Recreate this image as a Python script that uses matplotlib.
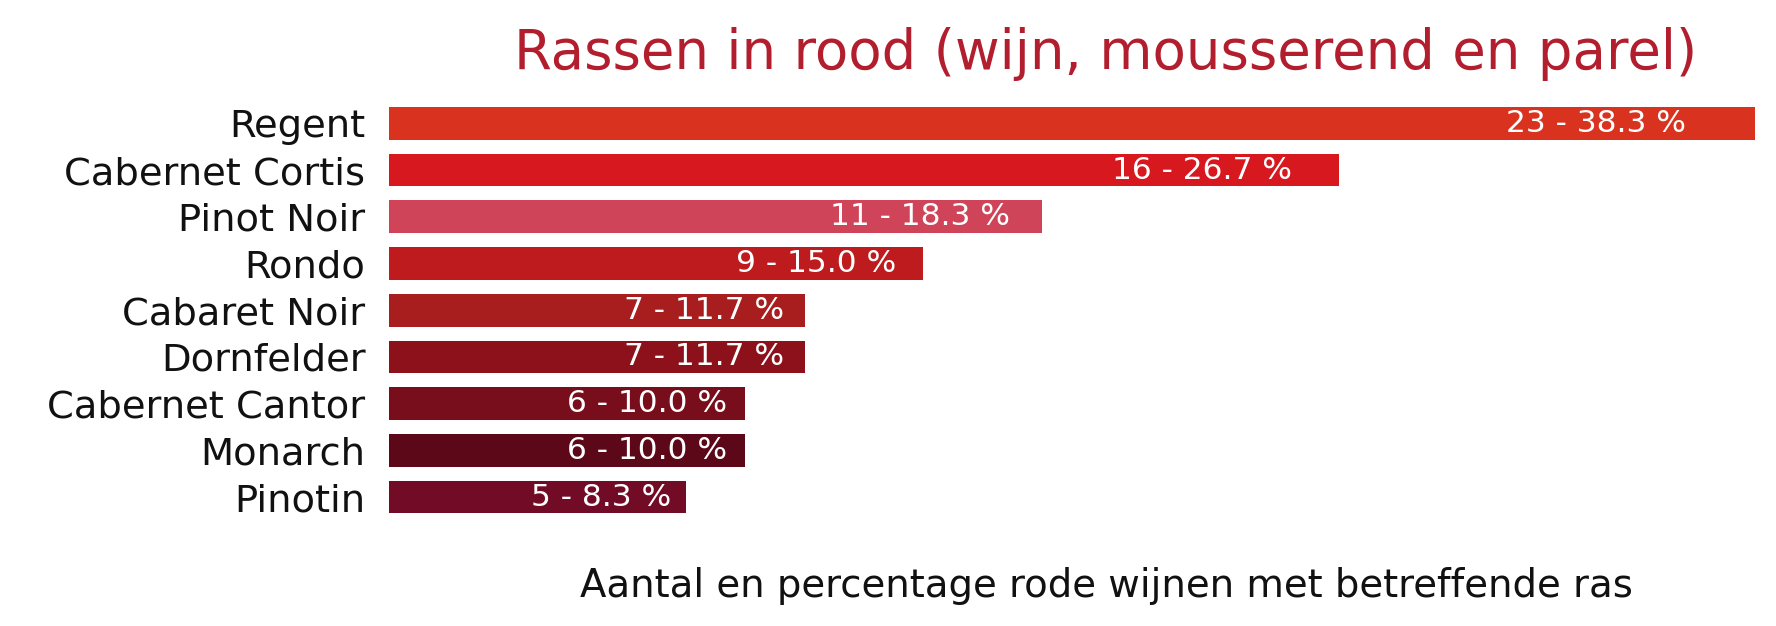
import matplotlib
matplotlib.use("Agg")
import matplotlib.pyplot as plt

# rassen, aantallen en percentages
rassen = ["Regent", "Cabernet Cortis", "Pinot Noir", "Rondo", "Cabaret Noir",
          "Dornfelder", "Cabernet Cantor", "Monarch", "Pinotin"]
aantal = [23, 16, 11, 9, 7, 7, 6, 6, 5]
percentage = [38.3, 26.7, 18.3, 15.0, 11.7, 11.7, 10.0, 10.0, 8.3]
kleuren = ["#D9321F", "#D7181F", "#CF4459", "#BE1B1E", "#A81D1E",
           "#8D111B", "#780E1B", "#5D0818", "#720B26"]

titel = "Rassen in rood (wijn, mousserend en parel)"
x_label = "Aantal en percentage rode wijnen met betreffende ras"

plt.rcParams['font.family'] = ['DejaVu Sans']

fig = plt.figure(figsize=(17.76, 6.26), dpi=100)
ax = fig.add_axes([389 / 1776, 0.1474, 1434 / 1776, 0.714])

posities = list(range(len(rassen)))
ax.barh(posities, aantal, height=0.7, color=kleuren)

for i in posities:
    ax.text(aantal[i] * 0.95, i, f"{aantal[i]} - {percentage[i]:.1f} %",
            ha='right', va='center', color='white', fontsize=22.5)

ax.set_yticks(posities)
ax.set_yticklabels(rassen, fontsize=27.7, color='#111111')
ax.invert_yaxis()
ax.set_xlim(0, max(aantal) * 1.05)
ax.set_xticks([])
ax.tick_params(axis='y', length=0, pad=17)
for s in ax.spines.values():
    s.set_visible(False)

ax.set_title(titel, fontsize=39.3, color="#B31E2E", pad=13)
ax.set_xlabel(x_label, fontsize=27.8, labelpad=24, color='#111111')

fig.savefig("out.png", dpi=100)
